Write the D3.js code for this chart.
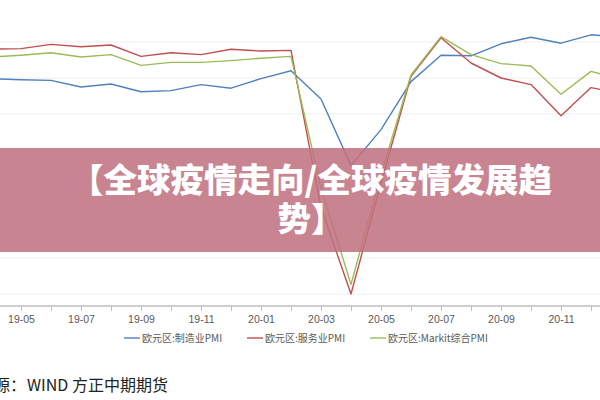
<!DOCTYPE html>
<html>
<head>
<meta charset="utf-8">
<script src="https://cdn.jsdelivr.net/npm/d3@7"></script>
<style>
  body { margin: 0; background: #fff; }
  svg { display: block; }
</style>
</head>
<body>
<svg id="chart" width="600" height="400"></svg>
<script>
// months shown (chart is cropped on both sides)
const months = ["19-03", "19-04", "19-05", "19-06", "19-07", "19-08", "19-09", "19-10", "19-11", "19-12",
    "20-01", "20-02", "20-03", "20-04", "20-05", "20-06", "20-07", "20-08", "20-09", "20-10", "20-11", "20-12",
    "21-01"];

const manufacturing = [47.5, 47.9, 47.7, 47.6, 46.5, 47.0, 45.7, 45.9, 46.9, 46.3,
    47.9, 49.2, 44.5, 33.4, 39.4, 47.4, 51.8, 51.7, 53.7, 54.8, 53.8, 55.2, 54.8];
const services = [53.3, 52.8, 52.9, 53.6, 53.2, 53.5, 51.6, 52.2, 51.9, 52.8,
    52.5, 52.6, 26.4, 12.0, 30.5, 48.3, 54.7, 50.5, 48.0, 46.9, 41.7, 46.4, 45.4];
const composite = [51.6, 51.5, 51.8, 52.2, 51.5, 51.9, 50.1, 50.6, 50.6, 50.9,
    51.3, 51.6, 29.7, 13.6, 31.9, 48.5, 54.9, 51.9, 50.4, 50.0, 45.3, 49.1, 47.8];

const seriesNames = ["欧元区:制造业PMI", "欧元区:服务业PMI", "欧元区:Markit综合PMI"];
const gridValues = [12, 18, 24, 30, 36, 42, 48, 54];
const titleLines = ["【全球疫情走向/全球疫情发展趋", "势】"];

const colors = ["#4F81BD", "#C0504D", "#9BBB59"];
const svg = d3.select("#chart");

const x = d3.scaleLinear().domain([0, months.length - 1]).range([-39, 621]);
const y = d3.scaleLinear().domain([10, 54]).range([306, 42]);

// gridlines
svg.append("g")
    .selectAll("line")
    .data(gridValues)
    .join("line")
    .attr("x1", 0).attr("x2", 600)
    .attr("y1", d => y(d)).attr("y2", d => y(d))
    .attr("stroke", "#efefef")
    .attr("stroke-width", 1);

// x axis, label every other month, only those inside the picture
const visible = i => x(i) > 10 && x(i) < 590;
const xAxis = d3.axisBottom(x)
    .tickValues(d3.range(months.length))
    .tickSize(5)
    .tickFormat(i => (+months[i].slice(3)) % 2 === 1 && visible(i) ? months[i] : "");

const axisG = svg.append("g")
    .attr("transform", `translate(0,${y(10)})`)
    .call(xAxis);
axisG.select(".domain").attr("d", "M0,0H600").attr("stroke", "#bfbfbf").attr("stroke-width", 1.5);
axisG.selectAll(".tick line").attr("stroke", "#bfbfbf");
axisG.selectAll(".tick text")
    .attr("y", 10)
    .attr("fill", "#595959")
    .style("font-family", "'Liberation Sans', Arial, sans-serif")
    .style("font-size", "10.5px");

// lines
const series = [manufacturing, services, composite];
const line = d3.line().x((d, i) => x(i)).y(d => y(d));

svg.append("g")
    .selectAll("path")
    .data(series)
    .join("path")
    .attr("d", d => line(d))
    .attr("fill", "none")
    .attr("stroke", (d, i) => colors[i])
    .attr("stroke-width", 1.4)
    .attr("stroke-linejoin", "round");

// legend
const legendX = [124, 247, 370];
const legend = svg.append("g")
    .selectAll("g")
    .data(seriesNames)
    .join("g")
    .attr("transform", (d, i) => `translate(${legendX[i]},338)`);
legend.append("line")
    .attr("x1", 0).attr("x2", 16)
    .attr("stroke", (d, i) => colors[i])
    .attr("stroke-width", 1.4);
legend.append("text")
    .attr("x", 18)
    .attr("dy", "0.35em")
    .attr("fill", "#595959")
    .style("font-family", "'Noto Sans CJK SC', sans-serif")
    .style("font-size", "10px")
    .text(d => d);

// source note (left part is cut off in the original too)
svg.append("text")
    .attr("x", 26).attr("y", 391)
    .attr("text-anchor", "end")
    .attr("fill", "#222")
    .style("font-family", "'Noto Sans CJK SC', sans-serif")
    .style("font-size", "16px")
    .text("来源：");
svg.append("text")
    .attr("x", 27).attr("y", 391)
    .attr("fill", "#222")
    .style("font-family", "'Noto Sans CJK SC', sans-serif")
    .style("font-size", "16px")
    .text("WIND 方正中期期货");

// title banner
svg.append("rect")
    .attr("x", 0).attr("y", 148)
    .attr("width", 600).attr("height", 104)
    .attr("fill", "rgb(192,112,128)")
    .attr("fill-opacity", 0.86);

svg.append("g")
    .selectAll("text")
    .data(titleLines)
    .join("text")
    .attr("x", 311)
    .attr("y", (d, i) => 180 + i * 39)
    .attr("dy", "0.36em")
    .attr("text-anchor", "middle")
    .attr("fill", "#fff")
    .style("font-family", "'Noto Sans CJK SC', sans-serif")
    .style("font-weight", 900)
    .style("font-size", "33.5px")
    .text(d => d);
</script>
</body>
</html>
